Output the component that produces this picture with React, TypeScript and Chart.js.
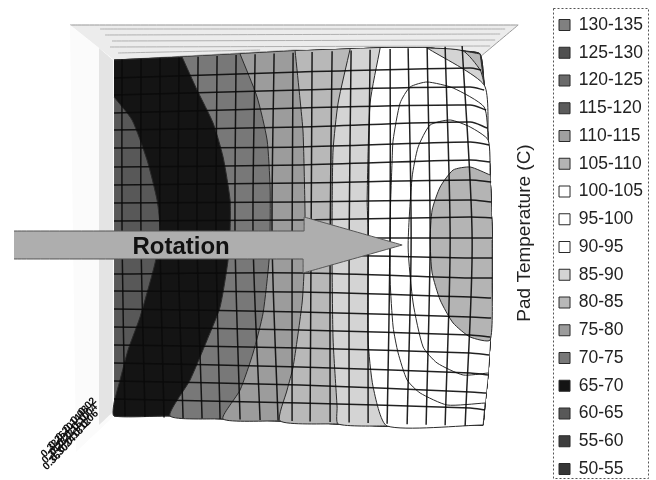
import React, { useEffect, useRef } from "react";
import { Chart, registerables } from "chart.js";

Chart.register(...registerables);

type P = { x: number; y: number };
const pts = (a: number[][]): P[] => a.map(([x, y]) => ({ x, y }));

// legend / temperature bands, hottest first
const bandLabels = ["130-135","125-130","120-125","115-120","110-115","105-110","100-105","95-100","90-95","85-90","80-85","75-80","70-75","65-70","60-65","55-60","50-55"];
const bandColors = ["#808080","#505050","#6a6a6a","#5c5c5c","#a0a0a0","#b4b4b4","#ffffff","#ffffff","#ffffff","#d4d4d4","#b8b8b8","#9c9c9c","#787878","#141414","#585858","#3e3e3e","#363636"];

// surface outline
const topEdge = [[114,60],[182,57],[240,54],[295,51],[350,49],[380,48],[427,48],[463,51],[480,54]];
const rightEdge = [[483,425],[485,403],[488,373],[490,340],[492,280],[492,240],[490,175],[488,140],[484,85],[480,54]];
const bottomEdge = [[114,416],[170,416],[223,419],[280,421],[338,424],[387,426],[483,425]];

// contour lines, top to bottom
const c6065 = [[114,97],[132,120],[147,160],[157,200],[160,230],[155,263],[140,317],[128,350],[120,380],[114,403]];
const c6570 = [[182,57],[197,90],[213,123],[223,157],[230,200],[230,230],[228,260],[220,307],[207,340],[190,380],[170,416]];
const c7075 = [[240,54],[257,97],[267,140],[270,187],[270,230],[269,260],[263,313],[253,353],[240,390],[223,419]];
const c7580 = [[295,51],[300,100],[303,133],[305,220],[304,270],[302,303],[293,367],[287,390],[280,421]];
const c8085 = [[350,49],[338,103],[333,150],[332,213],[332,267],[333,340],[337,407],[338,424]];
const c8590 = [[380,48],[370,103],[367,200],[368,230],[368,340],[373,387],[387,426]];
const c9095 = [[485,403],[447,405],[420,393],[407,380],[398,353],[393,327],[390,280],[390,220],[392,160],[393,140],[400,103],[410,87],[427,82],[453,88],[484,107]];
const c95100 = [[488,373],[463,375],[437,363],[423,347],[413,303],[408,247],[412,177],[418,147],[430,125],[450,120],[470,127],[488,140]];
const c105 = [[490,175],[470,167],[453,170],[440,187],[432,210],[430,240],[432,273],[440,300],[453,323],[470,337],[490,340],[492,280],[492,240]];
const cornerCut = [[427,48],[484,85]];
const cornerSmall = [[463,51],[480,70]];

// mesh of the surface
const meshColsTop = [122,141,160,179,198,217,236,255,274,293,312,332,351,370,390,408,427,445,462];
const meshColsMid = [122,141,160,178,197,216,235,253,272,292,311,330,349,368,390,411,430,450,472];
const meshColsBot = [125,145,164,183,202,220,240,260,278,292,310,330,349,368,387,407,426,445,465];
const meshRowsLeft = [78,95,113,130,148,167,185,203,221,240,258,274,291,309,327,345,363,381,399];
const meshRowsCenter = [72,90,108,127,147,165,183,202,220,238,255,273,292,312,330,348,367,385,403];
const meshRowsRight = [68,87,105,122,142,160,180,200,217,238,258,278,297,317,335,353,373,392,408];
const meshRowsEnd = [70,90,110,128,145,162,182,202,218,238,258,278,298,318,337,355,375,393,410];
const meshRowsEndX = [481,484,486,487,489,490,491,491,492,492,492,492,491,491,490,489,488,486,485];

// walls and arrow
const backWall = [[70,25],[518,25],[481,56],[295,50],[114,60]];
const backWallStreaks = [[[100,29],[505,29]],[[105,35],[500,34]],[[112,41],[495,40]],[[110,47],[490,46]],[[118,53],[260,50]]];
const sideWall = [[70,25],[114,60],[114,416],[76,452]];
const sideStrip = [[99,48],[113,60],[113,412],[99,425]];
const arrowShape = [[14,231],[304,231],[304,217],[402,245],[303,273],[303,259],[14,259]];
const depthLabels = ["0.02","0.04","0.06","0.08","0.10","0.12","0.14","0.16","0.18","0.20","0.22","0.24","0.26","0.28","0.30","0.32","0.34","0.36"];

const rightOf = (b: number[][], corner?: number[][]) => {
  const s = b[0], e = b[b.length - 1];
  const bottom = bottomEdge.filter((p) => p[0] > e[0]);
  let right = rightEdge.slice();
  let top = topEdge.slice().reverse().filter((p) => p[0] > s[0]);
  if (corner) {
    right = right.filter((p) => p[1] > corner[1][1]);
    top = top.filter((p) => p[0] < corner[0][0]);
    return [...b, ...bottom, ...right, corner[1], corner[0], ...top];
  }
  return [...b, ...bottom, ...right, ...top];
};

const bandShapes: Record<string, number[][]> = {
  "105-110": c105,
  "100-105": [...c95100, ...rightEdge.filter((p) => p[1] < 373 && p[1] > 140).reverse()],
  "95-100": [...c9095, ...rightEdge.filter((p) => p[1] > 107 && p[1] < 403).reverse()],
  "90-95": rightOf(c8590, cornerCut),
  "85-90": rightOf(c8085, cornerSmall),
  "80-85": rightOf(c7580),
  "75-80": rightOf(c7075),
  "70-75": rightOf(c6570),
  "65-70": [...topEdge, ...rightEdge.slice().reverse().slice(1), ...bottomEdge.slice().reverse().slice(0, -1), [114,416], ...c6065.slice().reverse()],
  "60-65": [...topEdge, ...rightEdge.slice().reverse().slice(1), ...bottomEdge.slice().reverse()],
};

const wall = (label: string, a: number[][], bg: string, border: string, width = 0) => ({
  label, data: pts(a), fill: "shape", backgroundColor: bg, borderColor: border, borderWidth: width,
  pointRadius: 0, tension: 0.001,
});

const meshLine = (label: string, a: number[][]) => ({
  label, data: pts(a), fill: false, borderColor: "rgba(10,10,10,0.9)", borderWidth: 1.5, pointRadius: 0, tension: 0.3,
});

const meshDatasets = [
  ...meshColsTop.map((x, i) => meshLine("col" + i, [[x, 60 - (x - 114) * 0.04], [meshColsMid[i], 240], [meshColsBot[i], 416 + (meshColsBot[i] - 114) * 0.028]])),
  ...meshRowsLeft.map((y, i) => meshLine("row" + i, [[114, y], [300, meshRowsCenter[i]], [470, meshRowsRight[i]], [meshRowsEndX[i], meshRowsEnd[i]]])),
];

const bandDatasets = bandLabels.map((label, i) => ({
  label,
  data: pts(bandShapes[label] || []),
  fill: "shape",
  backgroundColor: bandColors[i],
  borderColor: "#2a2a2a",
  borderWidth: 1,
  pointRadius: 0,
  tension: 0.2,
}));

const decorations = {
  id: "decorations",
  afterDraw(chart: any) {
    const { ctx, scales } = chart;
    const sx = (v: number) => scales.x.getPixelForValue(v);
    const sy = (v: number) => scales.y.getPixelForValue(v);
    ctx.save();
    // legend frame
    ctx.setLineDash([2, 2]);
    ctx.strokeStyle = "#555";
    ctx.lineWidth = 1;
    ctx.strokeRect(553.5, 8.5, 95, 470);
    ctx.setLineDash([]);
    // arrow caption
    ctx.fillStyle = "#111";
    ctx.font = "bold 24px 'Liberation Sans'";
    ctx.textAlign = "center";
    ctx.textBaseline = "middle";
    ctx.fillText("Rotation", sx(181), sy(247));
    // colour axis title
    ctx.save();
    ctx.translate(525, 233);
    ctx.rotate(-Math.PI / 2);
    ctx.font = "19px 'Liberation Sans'";
    ctx.fillStyle = "#222";
    ctx.fillText("Pad Temperature (C)", 0, 0);
    ctx.restore();
    // crowded depth axis
    ctx.font = "bold 10.5px 'Liberation Sans'";
    ctx.fillStyle = "#111";
    depthLabels.forEach((t, i) => {
      ctx.save();
      ctx.translate(sx(91 - i * 2.5), sy(410 + i * 2.8));
      ctx.rotate(-Math.PI / 4);
      ctx.fillText(t, 0, (i % 3 - 1) * 5);
      ctx.restore();
    });
    ctx.restore();
  },
};

export default function App() {
  const ref = useRef<HTMLCanvasElement | null>(null);
  useEffect(() => {
    const chart = new Chart(ref.current as HTMLCanvasElement, {
      type: "line",
      data: {
        datasets: [
          wall("Rotation arrow", arrowShape, "#aeaeae", "#555", 1),
          ...meshDatasets,
          ...bandDatasets,
          wall("side strip", sideStrip, "#e4e4e4", "#e4e4e4"),
          wall("side wall", sideWall, "#fbfbfb", "#fbfbfb"),
          ...backWallStreaks.map((s, i) => ({ label: "streak" + i, data: pts(s), fill: false, borderColor: "#b0b0b0", borderWidth: 1, pointRadius: 0, tension: 0.001 })),
          wall("back wall", backWall, "#ececec", "#999", 1),
        ] as any,
      },
      options: {
        animation: false,
        responsive: false,
        layout: { padding: { right: 3 } },
        scales: {
          x: { type: "linear", min: 0, max: 548.6, display: false },
          y: { type: "linear", min: 0, max: 494, reverse: true, display: false },
        },
        plugins: {
          tooltip: { enabled: false },
          legend: {
            display: true,
            position: "right",
            labels: {
              boxWidth: 11,
              boxHeight: 11,
              padding: 10.25,
              color: "#222",
              font: { family: "'Liberation Sans'", size: 17.5 },
              filter: (item: any) => bandLabels.includes(item.text),
            },
          },
        },
      } as any,
      plugins: [decorations],
    });
    return () => chart.destroy();
  }, []);
  return (
    <div style={{ position: "fixed", left: 0, top: 0, width: 656, height: 480, overflow: "hidden", background: "#fff" }}>
      <canvas ref={ref} width={656} height={494} style={{ display: "block", width: 656, height: 494 }} />
    </div>
  );
}
